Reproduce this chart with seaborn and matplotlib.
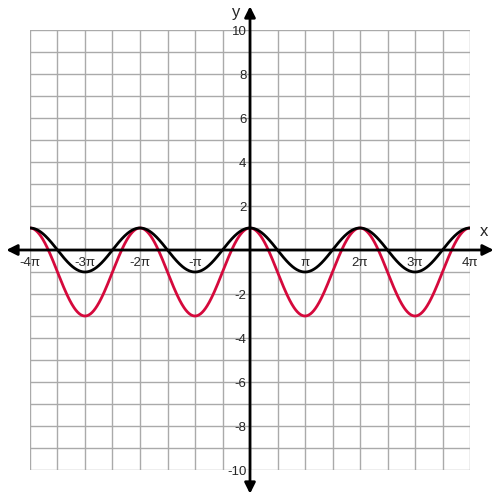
import numpy as np
import pandas as pd
import matplotlib
matplotlib.use("Agg")
import matplotlib.pyplot as plt
import seaborn as sns

# curves: y = cos(x) and y = 2cos(x) - 1 on [-4pi, 4pi]
x_vals = np.linspace(-4 * np.pi, 4 * np.pi, 801)
y_black = np.cos(x_vals)
y_red = 2 * np.cos(x_vals) - 1

x_ticks = [k * np.pi for k in range(-4, 5) if k != 0]
x_tick_labels = ["-4π", "-3π", "-2π", "-π", "π", "2π", "3π", "4π"]
y_ticks = [-10, -8, -6, -4, -2, 2, 4, 6, 8, 10]

sns.set_style("white")
plt.rcParams['font.family'] = ['Liberation Sans', 'DejaVu Sans']

fig = plt.figure(figsize=(5, 5), dpi=100)
ax = fig.add_axes([0.06, 0.06, 0.88, 0.88])

# grid
for gx in np.arange(-8, 9) * np.pi / 2:
	ax.axvline(gx, color="#aaaaaa", lw=1, zorder=0)
for gy in range(-10, 11):
	ax.axhline(gy, color="#aaaaaa", lw=1, zorder=0)

df = pd.DataFrame({"x": x_vals, "black": y_black, "red": y_red})
sns.lineplot(data=df, x="x", y="red", color="#d5093c", lw=2, ax=ax, zorder=3)
sns.lineplot(data=df, x="x", y="black", color="black", lw=2, ax=ax, zorder=4)

ax.set_xlim(-4 * np.pi, 4 * np.pi)
ax.set_ylim(-10, 10)
for s in ax.spines.values():
	s.set_visible(False)
ax.set_xticks([])
ax.set_yticks([])
ax.set_xlabel("")
ax.set_ylabel("")

# axes with arrows
xa = 4 * np.pi * 500 / 440
ya = 10 * 500 / 440
arrow = dict(arrowstyle="-|>", color="black", lw=2, mutation_scale=16, shrinkA=0, shrinkB=0)
ax.annotate("", xy=(xa * 0.975, 0), xytext=(0, 0), arrowprops=arrow, annotation_clip=False, zorder=5)
ax.annotate("", xy=(-xa * 0.975, 0), xytext=(0, 0), arrowprops=arrow, annotation_clip=False, zorder=5)
ax.annotate("", xy=(0, ya * 0.975), xytext=(0, 0), arrowprops=arrow, annotation_clip=False, zorder=5)
ax.annotate("", xy=(0, -ya * 0.975), xytext=(0, 0), arrowprops=arrow, annotation_clip=False, zorder=5)

for t, lab in zip(x_ticks, x_tick_labels):
	ax.text(t, -0.3, lab, ha="center", va="top", fontsize=9.5, zorder=6, clip_on=False)
for t in y_ticks:
	ax.text(-0.2, t - 0.08, str(t), ha="right", va="center", fontsize=9.5, zorder=6, clip_on=False)

ax.text(xa * 0.935, 0.5, "x", ha="center", va="bottom", fontsize=12, clip_on=False)
ax.text(-0.55, ya * 0.95, "y", ha="right", va="center", fontsize=12, clip_on=False)

fig.savefig("out.png", dpi=100)
